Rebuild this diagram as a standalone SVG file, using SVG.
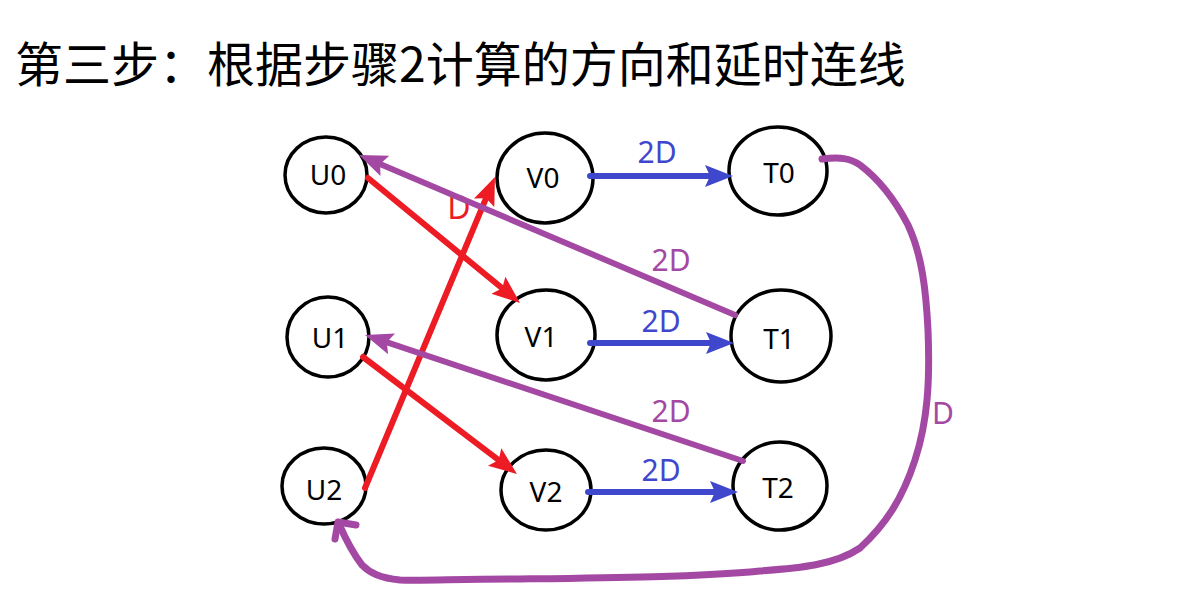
<svg xmlns="http://www.w3.org/2000/svg" width="1198" height="601" viewBox="0 0 1198 601">
<style>
.node{fill:#fff;stroke:#000;stroke-width:3.5}
.nl{font-family:"Noto Sans","DejaVu Sans",sans-serif;font-size:28px;fill:#000;text-anchor:middle}
.lb{font-family:"Noto Sans","DejaVu Sans",sans-serif;font-size:30px;text-anchor:middle}
.blue{stroke:#3f48cc;stroke-width:6;stroke-linecap:round;fill:none}
.red{stroke:#ed1c24;stroke-width:6;stroke-linecap:round;fill:none}
.purple{stroke:#a349a4;stroke-width:6;stroke-linecap:round;fill:none}
.title{font-family:"Noto Sans CJK SC","Noto Sans",sans-serif;font-size:48px;fill:#000}
</style>
<defs>
<marker id="ab" markerUnits="userSpaceOnUse" markerWidth="30" markerHeight="24" refX="18" refY="11" orient="auto" viewBox="0 0 30 22"><path d="M0,0 L28,11 L0,22 L5,11 z" fill="#3f48cc"/></marker>
<marker id="ar" markerUnits="userSpaceOnUse" markerWidth="30" markerHeight="24" refX="18" refY="11" orient="auto" viewBox="0 0 30 22"><path d="M0,0 L28,11 L0,22 L5,11 z" fill="#ed1c24"/></marker>
<marker id="ap" markerUnits="userSpaceOnUse" markerWidth="30" markerHeight="24" refX="18" refY="11" orient="auto" viewBox="0 0 30 22"><path d="M0,0 L28,11 L0,22 L5,11 z" fill="#a349a4"/></marker>
</defs>
<rect width="1198" height="601" fill="#fff"/>
<text class="title" x="15" y="82">第三步：根据步骤2计算的方向和延时连线</text>
<text class="lb" x="459" y="219" fill="#ed1c24" style="font-size:32px">D</text>
<g id="nodes">
<g id="U0"><ellipse class="node" cx="326" cy="175" rx="41" ry="38"/><text class="nl" x="328" y="185">U0</text></g>
<g id="V0"><ellipse class="node" cx="545" cy="178" rx="48" ry="45"/><text class="nl" x="543" y="188">V0</text></g>
<g id="T0"><ellipse class="node" cx="778" cy="171" rx="49" ry="44"/><text class="nl" x="779" y="183">T0</text></g>
<g id="U1"><ellipse class="node" cx="328" cy="337" rx="41" ry="40"/><text class="nl" x="330" y="348">U1</text></g>
<g id="V1"><ellipse class="node" cx="546" cy="335" rx="49" ry="45"/><text class="nl" x="541" y="347">V1</text></g>
<g id="T1"><ellipse class="node" cx="781" cy="336" rx="50" ry="46"/><text class="nl" x="779" y="349">T1</text></g>
<g id="U2"><ellipse class="node" cx="324" cy="486" rx="42" ry="38"/><text class="nl" x="324" y="500">U2</text></g>
<g id="V2"><ellipse class="node" cx="546" cy="490" rx="45" ry="40"/><text class="nl" x="546" y="502">V2</text></g>
<g id="T2"><ellipse class="node" cx="780" cy="486" rx="47" ry="44"/><text class="nl" x="778" y="498">T2</text></g>
</g>
<g id="connectors">
<line class="blue" x1="590" y1="176" x2="723" y2="176" marker-end="url(#ab)"/>
<line class="blue" x1="590" y1="343" x2="724" y2="343" marker-end="url(#ab)"/>
<line class="blue" x1="588" y1="492" x2="728" y2="492" marker-end="url(#ab)"/>
<line class="red" x1="368" y1="178" x2="512.3" y2="296.6" marker-end="url(#ar)"/>
<line class="red" x1="363" y1="357" x2="509" y2="467.9" marker-end="url(#ar)"/>
<line class="red" x1="365" y1="488" x2="491.1" y2="186.2" marker-end="url(#ar)"/>
<line class="purple" x1="735" y1="315" x2="368.2" y2="158.9" marker-end="url(#ap)"/>
<line class="purple" x1="743" y1="461" x2="374.5" y2="338.2" marker-end="url(#ap)"/>
<path class="purple" style="stroke-width:7;stroke-linejoin:round" d="M822,159 C840,157 850,158 860,165 C880,180 895,200 908,225 C922,255 926,290 928,330 C930,380 928,420 915,460 C902,500 885,525 860,548 C835,565 800,568 760,571 C700,577 600,578 520,579 C460,579 420,581 400,580 C380,578 370,573 362,565 C352,552 346,540 339,524"/>
<path class="purple" style="stroke-width:7;stroke-linejoin:round" d="M335,539 L338,522 L356,525"/>
</g>
<text class="lb" x="657" y="163" fill="#3f48cc">2D</text>
<text class="lb" x="661" y="332" fill="#3f48cc">2D</text>
<text class="lb" x="661" y="481" fill="#3f48cc">2D</text>
<text class="lb" x="671" y="271" fill="#a349a4">2D</text>
<text class="lb" x="671" y="422" fill="#a349a4">2D</text>
<text class="lb" x="943" y="424" fill="#a349a4">D</text>
</svg>
